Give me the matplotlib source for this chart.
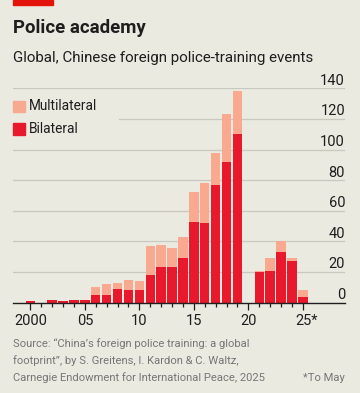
import numpy as np
import matplotlib
matplotlib.use("Agg")
import matplotlib.pyplot as plt
from matplotlib.patches import Rectangle
from matplotlib.transforms import ScaledTranslation

plt.rcParams['font.family'] = ['Roboto', 'DejaVu Sans']

# data
years = list(range(2000, 2026))
bilateral = [1, 0, 2, 1, 2, 2, 5, 5, 9, 8, 8, 18, 23, 23, 29, 53, 52, 77, 92, 110,
             0, 20, 21, 33, 27, 4]
total = [1, 0, 2, 1, 2, 2, 10, 12, 13, 15, 14, 37, 38, 36, 43, 72, 78, 98, 123, 138,
         0, 21, 29, 40, 29, 8]
multilateral = [t - b for t, b in zip(total, bilateral)]
yticks = [0, 20, 40, 60, 80, 100, 120, 140]
xtick_years = [2000, 2005, 2010, 2015, 2020, 2025]
xtick_labels = ["2000", "05", "10", "15", "20", "25*"]

BG = "#EBEAE1"
RED = "#E8192C"
PINK = "#F8A98F"
GRID = "#C9C8C0"
DARK = "#1E1E1E"
GREY = "#767676"

W, H = 360, 393
fig = plt.figure(figsize=(W / 100, H / 100), dpi=100, facecolor=BG)

def fx(x):
    return x / W

def fy(y):
    return 1 - y / H

ax = fig.add_axes([fx(13), fy(302.7), (345 - 13) / W, (302.7 - 88.3) / H])
ax.set_facecolor(BG)
ax.set_xlim(1998.41, 2028.87)
ax.set_ylim(0, 140)

for v in yticks[1:]:
    xmin = 0.32 if v == 120 else 0
    ax.axhline(v, xmin=xmin, color=GRID, lw=0.9, zorder=0)

ax.bar(years, bilateral, width=0.86, color=RED, zorder=2)
ax.bar(years, multilateral, bottom=bilateral, width=0.86, color=PINK, zorder=2)

for s in ['top', 'right', 'left']:
    ax.spines[s].set_visible(False)
ax.spines['bottom'].set_color(DARK)
ax.spines['bottom'].set_linewidth(1.0)
ax.set_yticks([])

ax.set_xticks(xtick_years)
ax.set_xticklabels(xtick_labels)
ax.set_xticks(years, minor=True)
ax.tick_params(axis='x', which='major', length=5.2, width=0.9, color=DARK,
               labelsize=10.5, labelcolor=DARK, pad=3)
ax.tick_params(axis='x', which='minor', length=3.2, width=0.9, color=DARK)
last = ax.get_xticklabels()[-1]
last.set_transform(last.get_transform() + ScaledTranslation(3.5 / 100, 0, fig.dpi_scale_trans))

off = ScaledTranslation(0, 3.6 / 100, fig.dpi_scale_trans)
for v in yticks:
    ax.text(1.0, v, str(v), transform=ax.get_yaxis_transform() + off,
            ha='right', va='baseline', fontsize=10.5, color=DARK)

# legend
fig.add_artist(Rectangle((fx(13.3), fy(112.3)), 11.7 / W, 11.7 / H,
                         transform=fig.transFigure, color=PINK))
fig.add_artist(Rectangle((fx(13.3), fy(135)), 11.7 / W, 11.7 / H,
                         transform=fig.transFigure, color=RED))
fig.text(fx(29.3), fy(106.5), "Multilateral", ha='left', va='center', fontsize=9.8, color=DARK)
fig.text(fx(29.3), fy(129), "Bilateral", ha='left', va='center', fontsize=9.8, color=DARK)

# header
fig.add_artist(Rectangle((fx(13.3), fy(5)), 40 / W, 5 / H,
                         transform=fig.transFigure, color="#E3120B"))
fig.text(fx(13), fy(33.3), "Police academy", ha='left', va='baseline',
         fontsize=13.4, fontweight='bold', color=DARK)
fig.text(fx(13), fy(62.3), "Global, Chinese foreign police-training events",
         ha='left', va='baseline', fontsize=10.9, color=DARK)

# footer
src = ["Source: \u201cChina\u2019s foreign police training: a global",
       "footprint\u201d, by S. Greitens, I. Kardon & C. Waltz,",
       "Carnegie Endowment for International Peace, 2025"]
for line, yb in zip(src, [347.3, 364, 380.7]):
    fig.text(fx(13), fy(yb), line, ha='left', va='baseline', fontsize=8.1, color=GREY)
fig.text(fx(345), fy(380.7), "*To May", ha='right', va='baseline', fontsize=8.1, color=GREY)

fig.savefig("out.png", dpi=100, facecolor=BG)
